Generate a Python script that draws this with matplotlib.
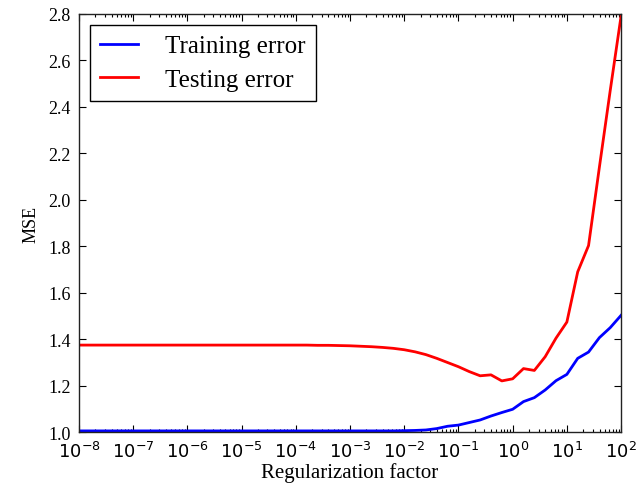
import numpy as np
import matplotlib
matplotlib.use("Agg")
import matplotlib.pyplot as plt
from matplotlib.ticker import FuncFormatter, LogLocator, FixedLocator

plt.rcParams['font.family'] = ['Liberation Serif', 'DejaVu Serif']
plt.rcParams['mathtext.fontset'] = 'dejavusans'

# Regularization grid: 10^-8 ... 10^2 in steps of 0.2 decades
reg_factor = np.logspace(-8, 2, 51)

training_error = [
    1.006, 1.006, 1.006, 1.006, 1.006, 1.006, 1.006, 1.006, 1.006, 1.006,
    1.006, 1.006, 1.006, 1.006, 1.006, 1.006, 1.006, 1.006, 1.006, 1.006,
    1.006, 1.006, 1.006, 1.006, 1.006, 1.006, 1.006, 1.006, 1.006, 1.006,
    1.007, 1.008, 1.010, 1.016, 1.026, 1.031, 1.042, 1.053, 1.070, 1.085,
    1.099, 1.132, 1.149, 1.182, 1.222, 1.249, 1.318, 1.345, 1.407, 1.450,
    1.503,
]

testing_error = [
    1.375, 1.375, 1.375, 1.375, 1.375, 1.375, 1.375, 1.375, 1.375, 1.375,
    1.375, 1.375, 1.375, 1.375, 1.375, 1.375, 1.375, 1.375, 1.375, 1.375,
    1.375, 1.375, 1.374, 1.374, 1.373, 1.372, 1.370, 1.368, 1.365, 1.361,
    1.355, 1.346, 1.334, 1.318, 1.300, 1.282, 1.261, 1.243, 1.247, 1.221,
    1.230, 1.274, 1.266, 1.325, 1.405, 1.474, 1.690, 1.803, 2.140, 2.470,
    2.790,
]

y_ticks = [1.0, 1.2, 1.4, 1.6, 1.8, 2.0, 2.2, 2.4, 2.6, 2.8]

fig = plt.figure(figsize=(6.37, 4.85), dpi=100)
ax = fig.add_axes([0.124, 0.1066, 0.851, 0.8631])

ax.plot(reg_factor, training_error, color='#0000ff', lw=2, label='Training error')
ax.plot(reg_factor, testing_error, color='#ff0000', lw=2, label='Testing error')

ax.set_xscale('log')
ax.set_xlim(1e-8, 1e2)
ax.set_ylim(1.0, 2.8)

ax.xaxis.set_major_locator(LogLocator(base=10, numticks=20))
ax.xaxis.set_minor_locator(LogLocator(base=10, subs=np.arange(2, 10), numticks=200))
ax.xaxis.set_major_formatter(FuncFormatter(lambda v, p: r'$10^{%d}$' % round(np.log10(v))))
ax.yaxis.set_major_locator(FixedLocator(y_ticks))
ax.yaxis.set_major_formatter(FuncFormatter(lambda v, p: '%.1f' % v))

ax.tick_params(which='both', direction='in', top=True, right=True)
ax.tick_params(which='major', length=5, width=0.8)
ax.tick_params(which='minor', length=2.5, width=0.8)
ax.tick_params(axis='x', labelsize=13, pad=6)
ax.tick_params(axis='y', labelsize=13, pad=6)

for s in ax.spines.values():
    s.set_linewidth(1.0)
    s.set_color('#222222')

ax.set_xlabel('Regularization factor', fontsize=15, labelpad=1)
ax.set_ylabel('MSE', fontsize=13, labelpad=6)

leg = ax.legend(loc='upper left', fontsize=18, frameon=True, fancybox=False,
                framealpha=1, edgecolor='black', handlelength=1.5,
                handletextpad=1.1, borderpad=0.4, labelspacing=0.45,
                borderaxespad=0.45)
leg.get_frame().set_linewidth(1.0)

fig.savefig('out.png', dpi=100)
